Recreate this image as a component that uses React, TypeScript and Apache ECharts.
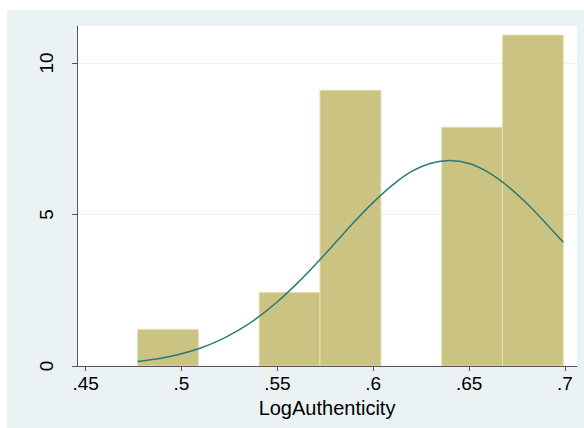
import React, { useEffect, useRef } from "react";
import * as echarts from "echarts";

// Histogram bins (density scale)
const binStarts = [0.4771, 0.5088, 0.5405, 0.5722, 0.604, 0.6357, 0.6674];
const binEnds = [0.5088, 0.5405, 0.5722, 0.604, 0.6357, 0.6674, 0.6991];
const densities = [1.21, 0, 2.43, 9.1, 0, 7.88, 10.92];

// Normal density overlay
const curveX = [
  0.4771, 0.49, 0.5, 0.51, 0.52, 0.53, 0.54, 0.55, 0.56, 0.57, 0.58, 0.59,
  0.6, 0.61, 0.62, 0.63, 0.64, 0.65, 0.66, 0.67, 0.68, 0.69, 0.6991,
];
const curveY = [
  0.148, 0.265, 0.404, 0.596, 0.854, 1.19, 1.61, 2.12, 2.71, 3.36, 4.05, 4.75,
  5.4, 5.97, 6.42, 6.69, 6.78, 6.68, 6.39, 5.94, 5.37, 4.71, 4.08,
];

const xTicks = [0.45, 0.5, 0.55, 0.6, 0.65, 0.7];
const yTicks = [0, 5, 10];
const xTitle = "LogAuthenticity";

const FONT = "Liberation Sans";

export default function App() {
  const ref = useRef<HTMLDivElement>(null);
  useEffect(() => {
    if (!ref.current) return;
    const chart = echarts.init(ref.current, undefined, { renderer: "svg" });
    const bars = binStarts.map((s, i) => [s, binEnds[i], densities[i]]);
    const curve = curveX.map((x, i) => [x, curveY[i]]);
    chart.setOption({
      animation: false,
      backgroundColor: "transparent",
      grid: {
        left: 77,
        right: 7,
        top: 26,
        bottom: 62,
        show: true,
        backgroundColor: "#ffffff",
        borderWidth: 0,
      },
      xAxis: {
        type: "value",
        min: 0.4455,
        max: 0.70625,
        name: xTitle,
        nameLocation: "middle",
        nameGap: 31,
        nameTextStyle: { fontFamily: FONT, fontSize: 20, color: "#000" },
        axisLine: { show: true, onZero: false, lineStyle: { color: "#555", width: 1 } },
        axisTick: { show: true, length: 5, customValues: xTicks, lineStyle: { color: "#555" } },
        axisLabel: {
          customValues: xTicks,
          margin: 8,
          fontFamily: FONT,
          fontSize: 19,
          color: "#000",
          formatter: (v: number) => String(v).replace(/^0\./, "."),
        },
        splitLine: { show: false },
      },
      yAxis: {
        type: "value",
        min: 0,
        max: 11.22,
        interval: 5,
        axisLine: { show: true, lineStyle: { color: "#555", width: 1 } },
        axisTick: { show: true, length: 5, customValues: yTicks, lineStyle: { color: "#555" } },
        axisLabel: {
          customValues: yTicks,
          rotate: 90,
          margin: 21,
          fontFamily: FONT,
          fontSize: 19,
          color: "#000",
        },
        splitLine: { show: true, lineStyle: { color: "#eaf2f3", width: 1 } },
      },
      series: [
        {
          type: "custom",
          data: bars,
          clip: true,
          renderItem: (params: any, api: any) => {
            const x0 = api.value(0);
            const x1 = api.value(1);
            const h = api.value(2);
            if (!h) return null;
            const p0 = api.coord([x0, h]);
            const p1 = api.coord([x1, 0]);
            return {
              type: "rect",
              shape: { x: p0[0], y: p0[1], width: p1[0] - p0[0], height: p1[1] - p0[1] },
              style: { fill: "#cbc382", stroke: "#e3dfb3", lineWidth: 1 },
            };
          },
          z: 2,
        },
        {
          type: "line",
          data: curve,
          smooth: 0.3,
          symbol: "none",
          lineStyle: { color: "#2b7a78", width: 1.5 },
          z: 3,
        },
      ],
    });
    return () => chart.dispose();
  }, []);
  return (
    <div style={{ position: "absolute", left: 0, top: 0, width: 584, height: 428, background: "#fff" }}>
      <div style={{ position: "absolute", left: 7, top: 10, width: 577, height: 418, background: "#eaf2f3" }} />
      <div ref={ref} style={{ position: "absolute", left: 0, top: 0, width: 584, height: 428 }} />
    </div>
  );
}
